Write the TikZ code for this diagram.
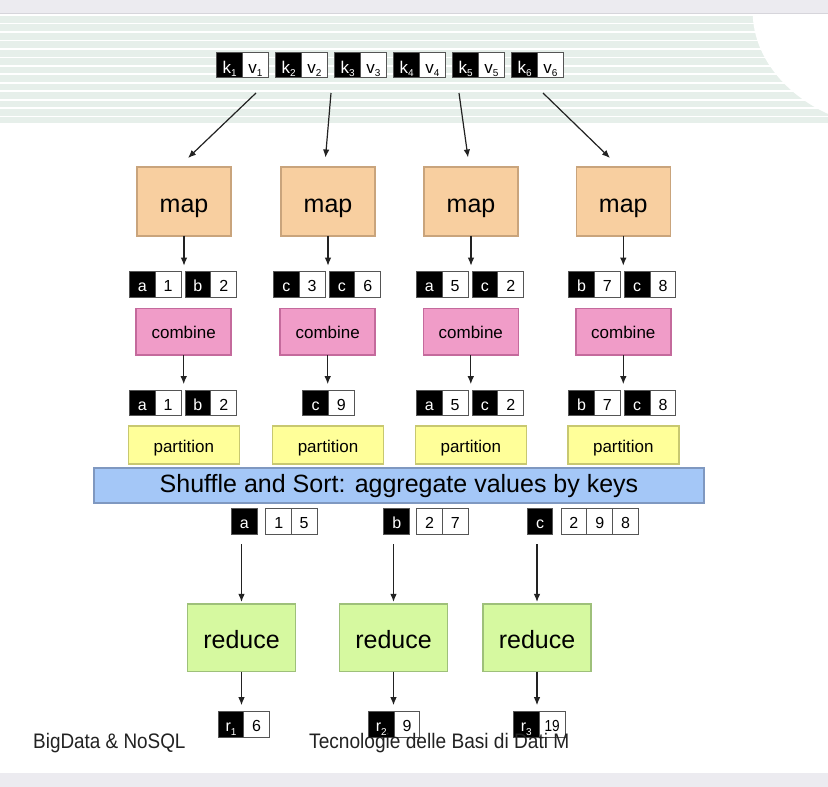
\documentclass[tikz,border=0pt]{standalone}
\usepackage{fontspec}
\setmainfont{Liberation Sans}
\usetikzlibrary{arrows.meta}
\definecolor{bandc}{HTML}{ECEBF0}
\definecolor{bandsh}{HTML}{D6D5DB}
\definecolor{stripec}{HTML}{E6EFEA}
\definecolor{cellgray}{HTML}{555555}
\definecolor{arrgray}{HTML}{222222}
\definecolor{mapf}{HTML}{F8CFA0}
\definecolor{mapd}{HTML}{C9A47C}
\definecolor{comf}{HTML}{F09CC8}
\definecolor{comd}{HTML}{C46A9C}
\definecolor{partf}{HTML}{FFFF99}
\definecolor{partd}{HTML}{C8C870}
\definecolor{shuff}{HTML}{A4C7F7}
\definecolor{shufd}{HTML}{7F98C0}
\definecolor{redf}{HTML}{D6F9A0}
\definecolor{redd}{HTML}{9EC07A}
\newcommand\lowidx[1]{\raisebox{-3.5pt}{\fontsize{10}{10}\selectfont #1}}
\newcommand\twopairs[7]{%
  \node[kc] (#1a) at ({#2-40.7},#3) {#4};
  \node[vc] (#1b) at ({#2-14.9},#3) {#5};
  \node[kc] (#1c) at ({#2+14.9},#3) {#6};
  \node[vc] (#1d) at ({#2+40.7},#3) {#7};
}
\begin{document}
\begin{tikzpicture}[x=1pt,y=-1pt,
  cell/.style={draw=cellgray, line width=0.9pt, minimum width=25.8pt, minimum height=25.6pt, inner sep=0pt, outer sep=0pt, text height=14.4pt, text depth=0pt, font=\fontsize{16}{16}\selectfont},
  kc/.style={cell, fill=black, text=white},
  vc/.style={cell, fill=white, text=black},
  topc/.style={minimum width=25.9pt, minimum height=25.4pt, text height=16.4pt, font=\fontsize{17}{17}\selectfont},
  arr/.style={draw=arrgray, line width=1.2pt, -{Latex[length=8pt,width=6.5pt]}},
  box/.style={line width=1.6pt, inner sep=0pt, outer sep=0pt, text depth=0pt},
  mapbox/.style={box, draw=mapd, fill=mapf, minimum width=94pt, minimum height=69pt, text height=22.6pt, font=\fontsize{25}{25}\selectfont},
  combox/.style={box, draw=comd, fill=comf, minimum width=95pt, minimum height=46.7pt, text height=13.2pt, font=\fontsize{17}{17}\selectfont},
  partbox/.style={box, draw=partd, fill=partf, minimum width=111pt, minimum height=38pt, text height=15.4pt, font=\fontsize{17}{17}\selectfont},
  redbox/.style={box, draw=redd, fill=redf, minimum width=107.7pt, minimum height=67.7pt, text height=21pt, font=\fontsize{25}{25}\selectfont},
  shufbox/.style={box, draw=shufd, fill=shuff, minimum width=610pt, minimum height=35pt, text height=14.4pt, font=\fontsize{25}{25}\selectfont},
  foot/.style={anchor=base west, inner sep=0pt, text=arrgray, font=\fontsize{21}{21}\selectfont}
]
\useasboundingbox (0,0) rectangle (828,787);
% background
\fill[white] (0,0) rectangle (828,787);
\fill[bandc] (0,0) rectangle (828,12.5);
\fill[bandsh] (0,12.5) rectangle (828,14);
\fill[bandc] (0,772.5) rectangle (828,787);
\fill[stripec] (0,14) rectangle (828,123.3);
\foreach \i in {0,...,12} {
  \draw[white, line width=1.6pt] (0,{15+8.47*\i}) -- (828,{15+8.47*\i});
}
\fill[white] (752.7,14) .. controls (754,60) and (790,100) .. (838,118) -- (838,14) -- cycle;
% top key/value pairs
\foreach \i in {1,...,6} {
  \pgfmathsetmacro\s{216.7+59*(\i-1)}
  \node[kc, topc] (k\i) at ({\s+13},65) {k\lowidx{\i}};
  \node[vc, topc] (v\i) at ({\s+38.8},65) {v\lowidx{\i}};
}
\coordinate (a1s) at (256,93);  \coordinate (a1e) at (188,158);
\coordinate (a2s) at (331,93);  \coordinate (a2e) at (325.5,157.5);
\coordinate (a3s) at (459,93);  \coordinate (a3e) at (468,157.5);
\coordinate (a4s) at (543,93);  \coordinate (a4e) at (610,158);
\draw[arr] (a1s) -- (a1e);
\draw[arr] (a2s) -- (a2e);
\draw[arr] (a3s) -- (a3e);
\draw[arr] (a4s) -- (a4e);
% map
\node[mapbox] (m1) at (184,201.4) {map};
\node[mapbox] (m2) at (328,201.4) {map};
\node[mapbox] (m3) at (471,201.4) {map};
\node[mapbox] (m4) at (623.3,201.4) {map};
% map outputs
\twopairs{p1}{183}{284.5}{a}{1}{b}{2}
\twopairs{p2}{327}{284.5}{c}{3}{c}{6}
\twopairs{p3}{470}{284.5}{a}{5}{c}{2}
\twopairs{p4}{622.3}{284.5}{b}{7}{c}{8}
\foreach \j in {1,...,4} {
  \draw[arr, shorten >=6pt] (m\j.south) -- (m\j.south |- p\j a.north);
}
% combine
\node[combox] (c1) at (183.7,331.7) {combine};
\node[combox] (c2) at (327.7,331.7) {combine};
\node[combox] (c3) at (470.8,331.7) {combine};
\node[combox] (c4) at (623.3,331.7) {combine};
% combine outputs
\twopairs{q1}{183}{403}{a}{1}{b}{2}
\node[kc] (q2a) at (315.6,403) {c};
\node[vc] (q2b) at (341.4,403) {9};
\twopairs{q3}{470}{403}{a}{5}{c}{2}
\twopairs{q4}{622.3}{403}{b}{7}{c}{8}
\foreach \j in {1,...,4} {
  \draw[arr, shorten >=6pt] (c\j.south) -- (c\j.south |- q\j a.north);
}
% partition
\node[partbox] (t1) at (183.8,445) {partition};
\node[partbox] (t2) at (328,445) {partition};
\node[partbox] (t3) at (470.8,445) {partition};
\node[partbox] (t4) at (623.3,445) {partition};
% shuffle
\node[shufbox] (sh) at (399,485.5) {Shuffle and Sort: aggregate values by keys};
% aggregated
\node[kc] (ga) at (244.2,521.3) {a};
\node[vc] (ga1) at (278.7,521.3) {1};
\node[vc] (ga2) at (304.1,521.3) {5};
\node[kc] (gb) at (396.7,521.3) {b};
\node[vc] (gb1) at (429.6,521.3) {2};
\node[vc] (gb2) at (455.4,521.3) {7};
\node[kc] (gc) at (540,521.3) {c};
\node[vc] (gc1) at (573.9,521.3) {2};
\node[vc] (gc2) at (599.7,521.3) {9};
\node[vc] (gc3) at (625.5,521.3) {8};
% reduce
\node[redbox] (r1) at (241.5,637.8) {reduce};
\node[redbox] (r2) at (393.5,637.8) {reduce};
\node[redbox] (r3) at (537,637.8) {reduce};
\draw[arr, shorten <=10pt, shorten >=2pt] (r1.north |- ga.south) -- (r1.north);
\draw[arr, shorten <=10pt, shorten >=2pt] (r2.north |- gb.south) -- (r2.north);
\draw[arr, shorten <=10pt, shorten >=2pt] (r3.north |- gc.south) -- (r3.north);
% results
\node[kc] (rk1) at (231,724.5) {r\lowidx{1}};
\node[vc] (rv1) at (256.6,724.5) {6};
\node[kc] (rk2) at (381.3,724.5) {r\lowidx{2}};
\node[vc] (rv2) at (407,724.5) {9};
\node[kc] (rk3) at (526.3,724.5) {r\lowidx{3}};
\node[vc] (rv3) at (552.2,724.5) {\scalebox{0.85}[1]{19}};
\draw[arr, shorten >=6.5pt] (r1.south) -- (r1.south |- rk1.north);
\draw[arr, shorten >=6.5pt] (r2.south) -- (r2.south |- rk2.north);
\draw[arr, shorten >=6.5pt] (r3.south) -- (r3.south |- rk3.north);
% footer
\node[foot] (f1) at (33,748) {\scalebox{0.9}[1]{BigData \& NoSQL}};
\node[foot] (f2) at (309,748) {\scalebox{0.91}[1]{Tecnologie delle Basi di Dati M}};
\end{tikzpicture}
\end{document}
